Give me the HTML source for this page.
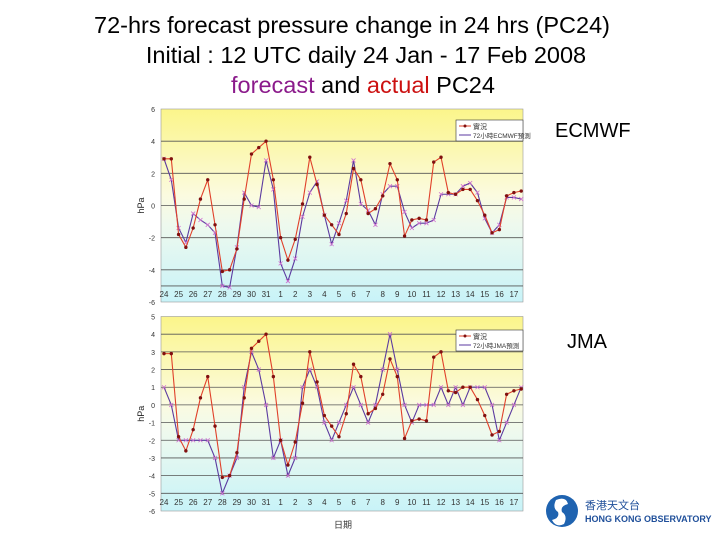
<!DOCTYPE html>
<html><head><meta charset="utf-8"><style>
body{margin:0;width:720px;height:540px;background:#fff;overflow:hidden;font-family:"Liberation Sans","Noto Sans CJK SC",sans-serif}
svg{position:absolute;left:0;top:0}
</style></head><body>
<svg width="720" height="540">
<defs>
<linearGradient id="bg" x1="0" y1="0" x2="0" y2="1">
<stop offset="0" stop-color="#fbf58a"/><stop offset="0.45" stop-color="#fbfbe0"/><stop offset="0.6" stop-color="#eef9ee"/><stop offset="1" stop-color="#c8f3f8"/>
</linearGradient>
</defs>
<g font-size="23.5" text-anchor="middle" fill="#000">
<text x="352" y="33">72-hrs forecast pressure change in 24 hrs (PC24)</text>
<text x="366" y="63">Initial : 12 UTC daily 24 Jan - 17 Feb 2008</text>
<text x="363" y="93"><tspan fill="#8b1a8b">forecast</tspan> and <tspan fill="#cc1111">actual</tspan> PC24</text>
</g>
<text x="555" y="137" font-size="20">ECMWF</text>
<text x="567" y="348" font-size="20">JMA</text>
<g id="c1"></g>
<g id="c2"></g>
<text x="343" y="528" font-size="9" text-anchor="middle" fill="#333">日期</text>
<g>
<circle cx="562" cy="511" r="16" fill="#1f63b0"/>
<path d="M556 500 q10 -4 12 4 q-8 2 -6 8 q6 4 2 12 q-8 4 -12 -4 q8 -2 6 -8 q-6 -4 -2 -12z" fill="#fff"/>
<text x="585" y="509" font-size="11" fill="#1f4f9a">香港天文台</text>
<text x="585" y="522" font-size="9" fill="#1f4f9a" font-weight="bold">HONG KONG OBSERVATORY</text>
</g>
</svg>
<script>
const dayLabels=["24","25","26","27","28","29","30","31","1","2","3","4","5","6","7","8","9","10","11","12","13","14","15","16","17"];
const actual=[2.9,2.9,-1.8,-2.6,-1.4,0.4,1.6,-1.2,-4.1,-4.0,-2.7,0.4,3.2,3.6,4.0,1.6,-2.0,-3.4,-2.1,0.1,3.0,1.3,-0.6,-1.2,-1.8,-0.5,2.3,1.6,-0.5,-0.2,0.6,2.6,1.6,-1.9,-0.9,-0.8,-0.9,2.7,3.0,0.8,0.7,1.0,1.0,0.3,-0.6,-1.7,-1.5,0.6,0.8,0.9];
const ecmwf=[2.9,1.6,-1.4,-2.3,-0.5,-0.9,-1.2,-1.7,-5.0,-5.1,-2.6,0.8,0.0,-0.1,2.8,1.0,-3.6,-4.7,-3.3,-0.7,0.8,1.5,-0.6,-2.4,-1.1,0.3,2.8,0.1,-0.3,-1.2,0.7,1.2,1.2,-0.4,-1.4,-1.1,-1.1,-0.9,0.7,0.7,0.7,1.2,1.4,0.8,-0.8,-1.7,-1.2,0.5,0.5,0.4];
const jma=[1,0,-2,-2,-2,-2,-2,-3,-5,-4,-3,1,3,2,0,-3,-2,-4,-3,1,2,1,-1,-2,-1,0,1,0,-1,0,2,4,2,0,-1,0,0,0,1,0,1,0,1,1,1,0,-2,-1,0,1];
const ticks1=[6,4,2,0,-2,-4,-6];
const ticks2=[5,4,3,2,1,0,-1,-2,-3,-4,-5,-6];
const NS="http://www.w3.org/2000/svg";
function mk(p,t,a){const e=document.createElementNS(NS,t);for(const k in a)e.setAttribute(k,a[k]);p.appendChild(e);return e;}
function chart(g,top,bot,ymax,ymin,ticks,grid,fc,legendY,legend2){
  const L=161,R=523,x0=164,dx=7.29;
  const y=v=>top+(ymax-v)*(bot-top)/(ymax-ymin);
  const x=i=>x0+i*dx;
  const bg=mk(g,'rect',{x:L,y:top,width:R-L,height:bot-top,fill:'url(#bg)',stroke:'#999','stroke-width':0.6});
  
  grid.forEach(v=>{const l=mk(g,'line',{x1:L,x2:R,y1:y(v),y2:y(v),stroke:'#555','stroke-width':0.8});
    });
  ticks.forEach(v=>{const t=mk(g,'text',{x:L-6,y:y(v)+3,'font-size':7,'text-anchor':'end',fill:'#333'});t.textContent=v;
    });
  const yl=mk(g,'text',{x:0,y:0,'font-size':9,'text-anchor':'middle',fill:'#222',transform:`translate(144,${(top+bot)/2}) rotate(-90)`});yl.textContent='hPa';
  
  dayLabels.forEach((d,k)=>{const t=mk(g,'text',{x:x(2*k),y:y(ymin+0.5)+3,'font-size':8,'text-anchor':'middle',fill:'#333'});t.textContent=d;
    });
  const fp=mk(g,'polyline',{points:fc.map((v,i)=>x(i)+','+y(v)).join(' '),fill:'none',stroke:'#5b3aa0','stroke-width':1.1});
  
  fc.forEach((v,i)=>{const m=mk(g,'path',{d:`M${x(i)-2},${y(v)-2}l4,4m0,-4l-4,4`,stroke:'#d070d0','stroke-width':0.8});
    });
  const ap=mk(g,'polyline',{points:actual.map((v,i)=>x(i)+','+y(v)).join(' '),fill:'none',stroke:'#e0402a','stroke-width':1.1});
  
  actual.forEach((v,i)=>{const c=mk(g,'circle',{cx:x(i),cy:y(v),r:1.7,fill:'#801010'});
    });
  const lg=mk(g,'g',{});
  mk(lg,'rect',{x:456,y:legendY,width:67,height:21,fill:'#fff',stroke:'#333','stroke-width':0.6});
  mk(lg,'line',{x1:459,x2:471,y1:legendY+6,y2:legendY+6,stroke:'#e0402a'});
  mk(lg,'circle',{cx:465,cy:legendY+6,r:1.5,fill:'#801010'});
  mk(lg,'line',{x1:459,x2:471,y1:legendY+15,y2:legendY+15,stroke:'#5b3aa0'});
  const t1=mk(lg,'text',{x:473,y:legendY+9,'font-size':7,fill:'#333'});t1.textContent='實況';
  const t2=mk(lg,'text',{x:473,y:legendY+18,'font-size':6.5,fill:'#333'});t2.textContent=legend2;
}
chart(document.getElementById('c1'),109,302,6,-6,ticks1,[4,2,0,-2,-4,-5],ecmwf,120,'72小時ECMWF預測');
chart(document.getElementById('c2'),316.5,511,5,-6,ticks2,[4,3,2,1,0,-1,-2,-3,-4,-5],jma,330,'72小時JMA預測');
</script>
</body></html>
